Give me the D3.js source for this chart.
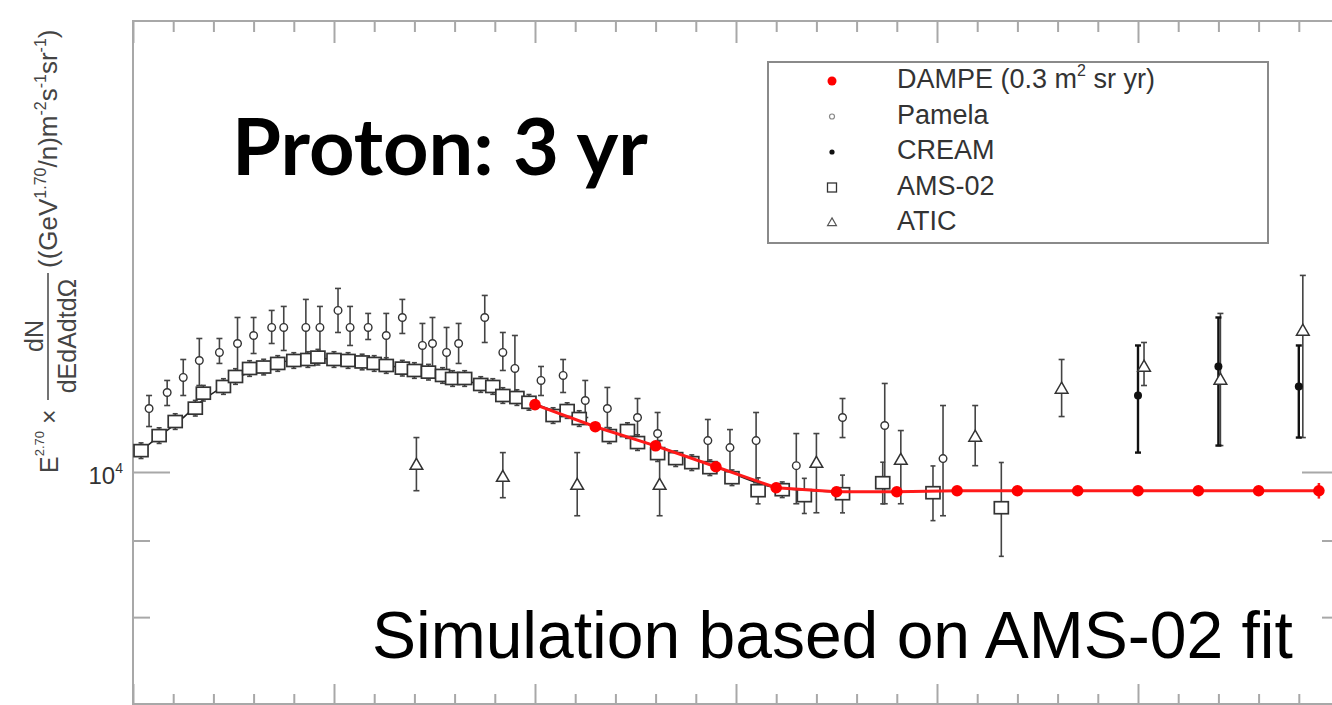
<!DOCTYPE html>
<html><head><meta charset="utf-8">
<script src="https://cdn.jsdelivr.net/npm/d3@7"></script>
<style>body{margin:0;background:#fff;} svg{display:block}</style>
</head><body><svg id="c" width="1332" height="705"></svg>
<script>
// ---------------- DATA (x = log10 E, arbitrary decades; y = E^2.7 flux) ----------------
const dampeLogE = [2.0,2.3,2.6,2.9,3.2,3.5,3.8,4.1,4.4,4.7,5.0,5.3,5.6,5.9];
const dampeFlux = [11090,10720,10410,10080,9760,9700,9700,9715,9715,9715,9715,9715,9715,9715];
const dampeErr  = [0,0,0,0,0,0,0,0,0,0,0,0,0.004,0.012];

const amsLogE = [0.04,0.13,0.21,0.31,0.35,0.45,0.51,0.58,0.65,0.72,0.80,0.87,0.92,1.00,1.07,1.14,1.20,1.26,1.34,1.40,1.47,1.54,1.59,1.65,1.73,1.79,1.84,1.91,1.97,2.09,2.16,2.22,2.37,2.46,2.51,2.61,2.70,2.78,2.87,2.98,3.11,3.23,3.34,3.53,3.73,3.98,4.32];
const amsFlux = [10333,10575,10806,11030,11287,11404,11581,11724,11750,11815,11869,11887,11930,11887,11869,11842,11815,11778,11730,11688,11658,11599,11545,11545,11439,11404,11247,11212,11130,10906,10990,10856,10575,10657,10462,10286,10207,10144,10066,9912,9716,9731,9642,9671,9836,9686,9465];
const amsErr  = [0.012,0.012,0.012,0.012,0.012,0.012,0.012,0.012,0.012,0.012,0.012,0.012,0.012,0.012,0.012,0.012,0.012,0.012,0.012,0.012,0.012,0.012,0.012,0.012,0.012,0.012,0.012,0.012,0.012,0.012,0.012,0.012,0.012,0.012,0.012,0.012,0.012,0.012,0.012,0.012,0.02,0.012,0.027,0.029,0.032,0.042,0.072];

const pamLogE = [0.08,0.17,0.25,0.33,0.43,0.52,0.60,0.69,0.75,0.86,0.93,1.02,1.08,1.17,1.26,1.34,1.44,1.49,1.56,1.62,1.75,1.84,1.90,2.03,2.14,2.25,2.36,2.51,2.61,2.86,2.97,3.10,3.30,3.53,3.74,4.03];
const pamFlux = [11024,11299,11563,11869,12016,12183,12334,12487,12487,12487,12487,12818,12487,12487,12334,12680,12146,12183,12016,12183,12680,12016,11724,11510,11599,11161,11024,10873,10608,10494,10382,10494,10097,10873,10740,10207];
const pamHi   = [11247,11510,11887,12277,12277,12680,12680,12818,12897,13037,12897,13259,12897,12759,12759,13037,12564,12680,12487,12564,13117,12391,12334,11760,11887,11510,11387,11195,10957,10840,10673,10957,10608,11195,11457,11075];
const pamLo   = [10723,11075,11247,11421,11815,11563,11997,12183,12053,11924,11997,12391,12146,12258,11742,12372,11634,11688,11563,11815,12202,11688,11247,11247,11299,10873,10706,10462,10333,10020,10020,9836,9523,10543,9523,9349];

const aticLogE = [1.41,1.84,2.21,2.62,3.40,3.82,4.19,4.62,5.03,5.41,5.82];
const aticFlux = [10097,9912,9791,9791,10128,10175,10543,11351,11742,11510,12410];
const aticHi   = [10543,10302,10302,10494,10608,10657,11075,11887,12202,12759,13527];
const aticLo   = [9716,9612,9349,9349,9392,9523,10097,10889,11421,10414,10543];

const creamLogE = [5.00,5.40,5.80];
const creamFlux = [11247,11760,11404];
const creamHi   = [12146,12680,12146];
const creamLo   = [10302,10414,10543];

const fitLogE = [0.035,0.134,0.234,0.333,0.433,0.532,0.632,0.731,0.831,0.930,1.03,1.129,1.229,1.328,1.428,1.527,1.627,1.726,1.826,1.925,2.01,2.3,2.6,2.9,3.2,3.5];
const fitFlux = [10317,10575,10823,11127,11369,11581,11724,11833,11887,11905,11887,11851,11797,11742,11670,11599,11527,11439,11316,11195,11092,10720,10410,10080,9760,9700];

const xMajorTicks = [0,1,2,3,4,5,6];
const xMinorTicks = d3.range(0,6.001,0.2).filter(v => Math.abs(v-Math.round(v))>1e-6);
const yMajorTicks = [10000];
const yMinorTicks = [8000,9000];
const yTickLabel = ["10","4"];

const legendNames = ["DAMPE","Pamela","CREAM","AMS-02","ATIC"];

// ---------------- LAYOUT ----------------
const W=1332,H=705;
const L=133,R=1339,T=21,B=704;
const svg = d3.select('#c');
svg.append('rect').attr('width',W).attr('height',H).attr('fill','#fff');
const x = d3.scaleLinear().domain([0,6]).range([L,R]);
const y = d3.scaleLog().domain([7000,20000]).range([B,T]);
const axisColor = '#a8a8a8';
const SANS = "'Liberation Sans', Arial, Helvetica, sans-serif";

function styleAxis(g){ g.select('.domain').remove(); g.selectAll('.tick line').attr('stroke',axisColor).attr('stroke-width',2); g.selectAll('.tick text').remove(); }
svg.append('g').attr('transform',`translate(0,${B})`).call(d3.axisBottom(x).tickValues(xMinorTicks).tickSize(-10).tickFormat('')).call(styleAxis);
svg.append('g').attr('transform',`translate(0,${B})`).call(d3.axisBottom(x).tickValues(xMajorTicks).tickSize(-20).tickFormat('')).call(styleAxis);
svg.append('g').attr('transform',`translate(0,${T})`).call(d3.axisTop(x).tickValues(xMinorTicks).tickSize(-11).tickFormat('')).call(styleAxis);
svg.append('g').attr('transform',`translate(0,${T})`).call(d3.axisTop(x).tickValues(xMajorTicks).tickSize(-22).tickFormat('')).call(styleAxis);
svg.append('g').attr('transform',`translate(${L},0)`).call(d3.axisLeft(y).tickValues(yMinorTicks).tickSize(-17).tickFormat('')).call(styleAxis);
svg.append('g').attr('transform',`translate(${L},0)`).call(d3.axisLeft(y).tickValues(yMajorTicks).tickSize(-37).tickFormat('')).call(styleAxis);
svg.append('g').attr('transform',`translate(${R},0)`).call(d3.axisRight(y).tickValues(yMinorTicks).tickSize(-17).tickFormat('')).call(styleAxis);
svg.append('g').attr('transform',`translate(${R},0)`).call(d3.axisRight(y).tickValues(yMajorTicks).tickSize(-37).tickFormat('')).call(styleAxis);
svg.append('rect').attr('x',L).attr('y',T).attr('width',R-L).attr('height',B-T)
  .attr('fill','none').attr('stroke',axisColor).attr('stroke-width',2);

// tick label 10^4
const tl = svg.append('text').attr('x',123).attr('y',y(10000)+12).attr('text-anchor','end')
  .attr('font-family',SANS).attr('font-size',24).attr('fill','#333');
tl.append('tspan').text(yTickLabel[0]);
tl.append('tspan').attr('font-size',14).attr('dy',-11).text(yTickLabel[1]);

// y axis title
const yl = svg.append('g').attr('fill','#444').attr('font-family',SANS);
const t1 = yl.append('text').attr('transform','translate(58,473) rotate(-90)').attr('font-size',25);
t1.append('tspan').text('E');
t1.append('tspan').attr('font-size',13).attr('dy',-14).text('2.70');
t1.append('tspan').attr('dy',14).attr('dx',7).text('×');
yl.append('text').attr('transform','translate(43,336) rotate(-90)').attr('font-size',25).attr('text-anchor','middle').text('dN');
yl.append('line').attr('x1',48).attr('x2',48).attr('y1',273).attr('y2',400).attr('stroke','#444').attr('stroke-width',1.5);
yl.append('text').attr('transform','translate(76,336) rotate(-90)').attr('font-size',25).attr('text-anchor','middle').text('dEdAdtdΩ');
const t3 = yl.append('text').attr('transform','translate(57,268) rotate(-90)').attr('font-size',26);
t3.append('tspan').text('((GeV');
t3.append('tspan').attr('font-size',16).attr('dy',-11).text('1.70');
t3.append('tspan').attr('dy',11).text('/n)m');
t3.append('tspan').attr('font-size',16).attr('dy',-11).text('-2');
t3.append('tspan').attr('dy',11).text('s');
t3.append('tspan').attr('font-size',16).attr('dy',-11).text('-1');
t3.append('tspan').attr('dy',11).text('sr');
t3.append('tspan').attr('font-size',16).attr('dy',-11).text('-1');
t3.append('tspan').attr('dy',11).text(')');

// ---------------- MARKS ----------------
const plot = svg.append('g');
const zip = (xs, ys, los, his) => xs.map((v,i)=>({u:v, f:ys[i], lo:los?los[i]:ys[i], hi:his?his[i]:ys[i]}));
const dampe = dampeLogE.map((v,i)=>({u:v,f:dampeFlux[i],lo:dampeFlux[i]*(1-dampeErr[i]),hi:dampeFlux[i]*(1+dampeErr[i])}));
const ams = amsLogE.map((v,i)=>({u:v,f:amsFlux[i],lo:amsFlux[i]*(1-amsErr[i]),hi:amsFlux[i]*(1+amsErr[i])}));
const pam = zip(pamLogE,pamFlux,pamLo,pamHi);
const atic = zip(aticLogE,aticFlux,aticLo,aticHi);
const cream = zip(creamLogE,creamFlux,creamLo,creamHi);
const fit = zip(fitLogE,fitFlux);

const line = d3.line().x(d=>x(d.u)).y(d=>y(d.f)).curve(d3.curveMonotoneX);
plot.append('path').datum(fit).attr('d',line).attr('fill','none').attr('stroke','#222').attr('stroke-width',1.5);

function errBars(data, color, w, cap){
  const g = plot.append('g').attr('stroke',color).attr('stroke-width',w);
  data.filter(d=>d.hi>d.lo).forEach(d=>{
    g.append('line').attr('x1',x(d.u)).attr('x2',x(d.u)).attr('y1',y(d.hi)).attr('y2',y(d.lo));
    g.append('line').attr('x1',x(d.u)-cap).attr('x2',x(d.u)+cap).attr('y1',y(d.hi)).attr('y2',y(d.hi));
    g.append('line').attr('x1',x(d.u)-cap).attr('x2',x(d.u)+cap).attr('y1',y(d.lo)).attr('y2',y(d.lo));
  });
}
errBars(ams,'#444',1.6,2.5);
errBars(pam,'#444',1.6,3);
errBars(atic,'#444',1.6,3);
errBars(cream,'#111',2.4,3);

plot.append('g').selectAll('rect').data(ams).join('rect')
  .attr('x',d=>x(d.u)-7).attr('y',d=>y(d.f)-6).attr('width',14).attr('height',12)
  .attr('fill','#fff').attr('stroke','#333').attr('stroke-width',1.7);
plot.append('g').selectAll('circle').data(pam).join('circle')
  .attr('cx',d=>x(d.u)).attr('cy',d=>y(d.f)).attr('r',3.8)
  .attr('fill','#fff').attr('stroke','#333').attr('stroke-width',1.4);
const tri = d3.symbol(d3.symbolTriangle, 70);
plot.append('g').selectAll('path').data(atic).join('path')
  .attr('transform',d=>`translate(${x(d.u)},${y(d.f)})`).attr('d',tri)
  .attr('fill','#fff').attr('stroke','#333').attr('stroke-width',1.5);
plot.append('g').selectAll('circle').data(cream).join('circle')
  .attr('cx',d=>x(d.u)).attr('cy',d=>y(d.f)).attr('r',4).attr('fill','#111');

plot.append('path').datum(dampe).attr('d',d3.line().x(d=>x(d.u)).y(d=>y(d.f)))
  .attr('fill','none').attr('stroke','#ff1a1a').attr('stroke-width',3);
errBars(dampe,'#ff1a1a',2.5,0);
plot.append('g').selectAll('circle').data(dampe).join('circle')
  .attr('cx',d=>x(d.u)).attr('cy',d=>y(d.f)).attr('r',5.8).attr('fill','#ff0000');

// ---------------- LEGEND ----------------
const lg = svg.append('g');
lg.append('rect').attr('x',768).attr('y',62).attr('width',500).attr('height',181)
  .attr('fill','#fff').attr('stroke','#8a8a8a').attr('stroke-width',2);
const rowY = i => 88 + i*35.5;
legendNames.forEach((n,i)=>{
  const t = lg.append('text').attr('x',897).attr('y',rowY(i)).attr('font-family',SANS)
    .attr('font-size',27).attr('fill','#333');
  if(i===0){
    t.append('tspan').text(n+' (0.3 m');
    t.append('tspan').attr('font-size',16).attr('dy',-12).text('2');
    t.append('tspan').attr('dy',12).text(' sr yr)');
  } else t.text(n);
});
const mx = 832;
lg.append('circle').attr('cx',mx).attr('cy',rowY(0)-7).attr('r',4.5).attr('fill','#ff0000');
lg.append('circle').attr('cx',mx).attr('cy',rowY(1)-7).attr('r',2.5).attr('fill','#fff').attr('stroke','#888').attr('stroke-width',1.2);
lg.append('circle').attr('cx',mx).attr('cy',rowY(2)-7).attr('r',2.6).attr('fill','#111');
lg.append('rect').attr('x',mx-4.5).attr('y',rowY(3)-11.5).attr('width',9).attr('height',9).attr('fill','#fff').attr('stroke','#333').attr('stroke-width',1.3);
lg.append('path').attr('transform',`translate(${mx},${rowY(4)-7})`).attr('d',d3.symbol(d3.symbolTriangle,34))
  .attr('fill','#fff').attr('stroke','#555').attr('stroke-width',1.2);

// ---------------- ANNOTATIONS ----------------
function fitWidth(sel, target){
  const w = sel.node().getComputedTextLength();
  const fs = parseFloat(sel.attr('font-size'));
  sel.attr('font-size', fs*target/w);
}
const proton = svg.append('text').attr('x',232).attr('y',175).attr('font-family',"Lato, 'Open Sans', sans-serif")
  .attr('font-weight','bold').attr('font-size',75).attr('fill','#000').text('Proton: 3 yr');
fitWidth(proton, 416);
const sim = svg.append('text').attr('x',372).attr('y',658).attr('font-family',SANS)
  .attr('font-size',66).attr('fill','#000').text('Simulation based on AMS-02 fit');
fitWidth(sim, 921);
</script></body></html>
